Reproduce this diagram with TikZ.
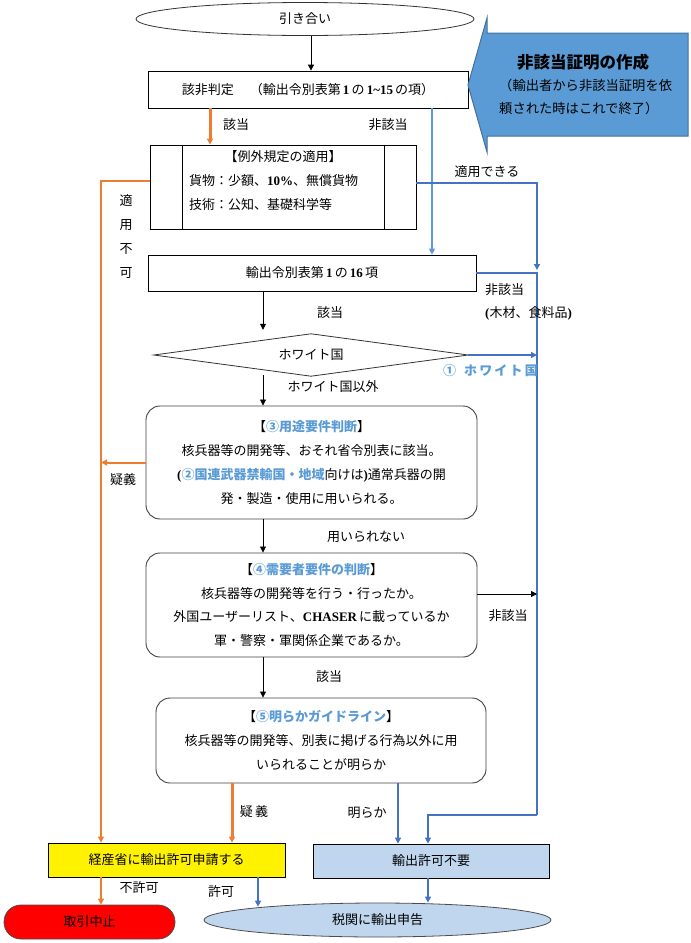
\documentclass[tikz,border=0pt]{standalone}
\usepackage{fontspec}
\setmainfont{Noto Sans CJK JP}
\newfontfamily\lsb{Liberation Serif}
\usetikzlibrary{shapes.geometric,arrows.meta,calc}
\definecolor{orng}{HTML}{ED7D31}
\definecolor{bla}{HTML}{5B9BD5}
\definecolor{blb}{HTML}{4472C4}
\definecolor{lbfill}{HTML}{C0D6EE}
\definecolor{calfill}{HTML}{5B9BD5}
\definecolor{caldraw}{HTML}{41719C}
\definecolor{hlblue}{HTML}{5B9BD5}
\newcommand{\bhl}[1]{\textcolor{hlblue}{\bfseries #1}}
\newcommand{\bser}[1]{{\lsb\bfseries #1}}
\begin{document}
\begin{tikzpicture}[x=1pt,y=-1pt,
  box/.style={draw=black,line width=0.8pt,inner sep=0pt,font=\fontsize{13pt}{15pt}\selectfont},
  rbox/.style={draw=black!75,line width=0.9pt,rounded corners=14pt,inner sep=0pt,align=center,font=\fontsize{13pt}{23.8pt}\selectfont},
  txt/.style={inner sep=0pt,font=\fontsize{13pt}{15pt}\selectfont},
  arr/.style={-{Triangle[length=6pt,width=6pt]}},
  blk/.style={arr,draw=black,line width=0.8pt},
  oln/.style={draw=orng,line width=2pt},
  olnt/.style={draw=orng,line width=3pt},
  bln/.style={draw=blb,line width=1.6pt},
  blnl/.style={draw=bla,line width=1.6pt}
]
\useasboundingbox (0,0) rectangle (691,943);
% column / row coordinates
\coordinate (cA) at (311,0);
\coordinate (cO1) at (210,0);
\coordinate (cB1) at (432,0);
\coordinate (cR) at (537,0);
\coordinate (cM) at (263,0);
\coordinate (cL) at (101,0);
\coordinate (cO2) at (232,0);
\coordinate (cB2) at (398,0);
\coordinate (cB3) at (428,0);
\coordinate (cB4) at (258,0);
\coordinate (r815) at (0,815);

% nodes
\node[draw=black!80,line width=0.8pt,shape=ellipse,minimum width=338pt,minimum height=33pt,inner sep=0pt,font=\fontsize{13pt}{15pt}\selectfont] (start) at (305,19) {引き合い};
\node[box,minimum width=320pt,minimum height=37pt] (b1) at (308,89.5)
  {該非判定\hspace{16pt}（輸出令別表第\,\bser{1}\,の\,\bser{1\textasciitilde15}\,の項）};
\node[box,minimum width=266pt,minimum height=84pt] (b2) at (283,187) {};
\draw[line width=0.8pt] (b2.north west -| 182,0) -- (b2.south west -| 182,0);
\draw[line width=0.8pt] (b2.north east -| 384,0) -- (b2.south east -| 384,0);
\node[txt] (b2t) at (283,157) {【例外規定の適用】};
\node[txt,anchor=west] (b2a) at (189,181) {貨物：少額、\bser{10\%}、無償貨物};
\node[txt,anchor=west] (b2b) at (189,205) {技術：公知、基礎科学等};
\node[box,minimum width=328pt,minimum height=36pt] (b3) at (312,273) {輸出令別表第\,\bser{1}\,の\,\bser{16}\,項};
\node[inner sep=0pt,minimum width=314pt,minimum height=42pt,font=\fontsize{13pt}{15pt}\selectfont] (dia) at (311,355) {ホワイト国};
\draw[black!80,line width=0.8pt] (dia.west) -- (dia.north) -- (dia.east) -- (dia.south) -- cycle;
\node[rbox,minimum width=331pt,minimum height=113pt] (b4) at (311.5,462.5)
  {【\bhl{③用途要件判断}】\\
   核兵器等の開発等、おそれ省令別表に該当。\\
   \bser{(}\bhl{②国連武器禁輸国・地域}向けは\bser{)}通常兵器の開\\
   発・製造・使用に用いられる。};
\node[rbox,minimum width=331pt,minimum height=104pt] (b5) at (311.5,605)
  {【\bhl{④需要者要件の判断}】\\
   核兵器等の開発等を行う・行ったか。\\
   外国ユーザーリスト、\bser{CHASER}\,に載っているか\\
   軍・警察・軍関係企業であるか。};
\node[rbox,minimum width=330pt,minimum height=85pt] (b6) at (321,740.5)
  {【\bhl{⑤明らかガイドライン}】\\
   核兵器等の開発等、別表に掲げる行為以外に用\\
   いられることが明らか};
\node[box,fill=yellow,minimum width=237pt,minimum height=34pt] (yel) at (166.5,860) {経産省に輸出許可申請する};
\node[box,fill=lbfill,minimum width=236pt,minimum height=34pt] (nf) at (431,861) {輸出許可不要};
\node[draw=black!70,line width=0.8pt,fill=red,rounded corners=17pt,minimum width=171pt,minimum height=34pt,inner sep=0pt,font=\fontsize{13pt}{15pt}\selectfont] (stop) at (89.5,922) {取引中止};
\node[draw=black!70,line width=0.8pt,fill=lbfill,shape=ellipse,minimum width=347pt,minimum height=34pt,inner sep=0pt,font=\fontsize{13pt}{15pt}\selectfont] (cust) at (377.5,920) {税関に輸出申告};

% callout arrow
\draw[fill=calfill,draw=caldraw,line width=1pt] (688,33) -- (487,33) -- (487,18) -- (468,85) -- (487,152) -- (487,136) -- (688,136) -- cycle;
\node[inner sep=0pt,font=\fontsize{16.5pt}{18pt}\selectfont\bfseries] (ct) at (583,62) {非該当証明の作成};
\node[inner sep=0pt,anchor=west,font=\fontsize{13.3pt}{16pt}\selectfont] (c2) at (499,85) {（輸出者から非該当証明を依};
\node[inner sep=0pt,anchor=west,font=\fontsize{13.3pt}{16pt}\selectfont] (c3) at (499,108) {頼された時はこれで終了）};

% connectors
\draw[blk] (start.south -| cA) -- (b1.north -| cA);
\draw[olnt,arr] (b1.south -| cO1) -- (b2.north -| cO1);
\draw[blnl,arr] (b1.south -| cB1) -- (b3.north -| cB1);
\draw[bln,arr] ([yshift=4pt]b2.east) -| ([yshift=3pt]b3.east -| cR);
\draw[bln] (b3.east) -| (r815 -| cR);
\draw[bln,arr] (r815 -| cR) -| (nf.north -| cB3);
\draw[oln,arr] ([yshift=6pt]b2.west) -| (yel.north -| cL);
\draw[blk] (b3.south -| cM) -- ([yshift=4pt]dia.north -| cM);
\draw[bln,arr] (dia.east) -- (dia.east -| cR);
\draw[blk] ([yshift=1pt]dia.south -| cM) -- (b4.north -| cM);
\draw[oln,arr] (b4.west) -- (b4.west -| cL);
\draw[blk] (b4.south -| cM) -- (b5.north -| cM);
\draw[blk] ([yshift=11pt]b5.east) -- ([yshift=11pt]b5.east -| cR);
\draw[blk] (b5.south -| cM) -- (b6.north -| cM);
\draw[olnt,arr] (b6.south -| cO2) -- (yel.north -| cO2);
\draw[bln,arr] (b6.south -| cB2) -- (nf.north -| cB2);
\draw[oln,arr] (yel.south -| cL) -- (stop.north -| cL);
\draw[bln,arr] (yel.south -| cB4) -- ([yshift=-4pt]cust.north -| cB4);
\draw[bln,arr] (nf.south -| cB3) -- (cust.north -| cB3);

% labels
\node[txt] (l1) at (236,125) {該当};
\node[txt] (l2) at (388,125) {非該当};
\node[txt] (l3) at (487,172) {適用できる};
\node[inner sep=0pt,align=center,font=\fontsize{13pt}{23.7pt}\selectfont] (l4) at (126,236.5) {適\\用\\不\\可};
\node[txt,anchor=west] (l5) at (485,290) {非該当};
\node[txt,anchor=west] (l6) at (485,313) {\bser{(}木材、食料品\bser{)}};
\node[txt] (l7) at (330,313) {該当};
\node[txt,anchor=east,text=hlblue,font=\fontsize{13pt}{15pt}\selectfont\bfseries] (l8) at (538,371) {①\hspace{8pt}ホ\,ワ\,イ\,ト\,国};
\node[txt] (l9) at (333,387) {ホワイト国以外};
\node[txt] (l10) at (123,480) {疑義};
\node[txt] (l11) at (366,537) {用いられない};
\node[txt] (l12) at (508,616) {非該当};
\node[txt] (l13) at (329,677) {該当};
\node[txt] (l14) at (254,812) {疑\,義};
\node[txt] (l15) at (367,813) {明らか};
\node[txt] (l16) at (139,888) {不許可};
\node[txt] (l17) at (221,892) {許可};
\end{tikzpicture}
\end{document}
